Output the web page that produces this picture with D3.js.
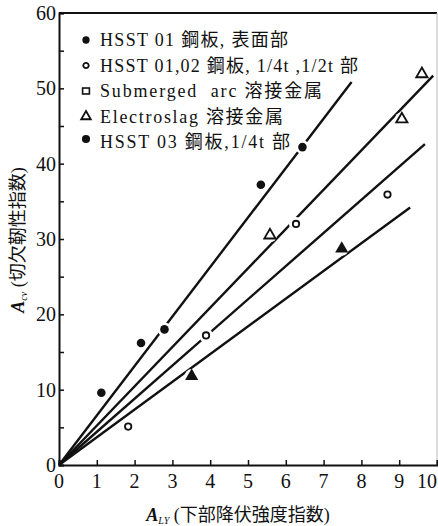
<!DOCTYPE html>
<html>
<head>
<meta charset="utf-8">
<script src="https://cdn.jsdelivr.net/npm/d3@7"></script>
<style>
  html, body { margin: 0; padding: 0; background: #fff; }
  svg { display: block; }
  text { font-family: "Liberation Serif", "DejaVu Serif", "Noto Sans CJK JP", serif; fill: #111; }
</style>
</head>
<body>
<script>
// Datos (A_LY, A_cv)
const hsst01Surface = [[1.12, 9.6], [2.17, 16.2], [2.79, 18.0], [5.34, 37.2], [6.44, 42.2]];
const hsst01Inner = [[1.83, 5.1], [3.89, 17.2], [6.27, 32.0], [8.69, 35.9]];
const electroslag = [[5.58, 30.5], [9.07, 45.9], [9.6, 51.9]];
const hsst03 = [[3.51, 11.8], [7.48, 28.7]];

// rectas por el origen: pendiente y extremo en x
const lineSlopes = [6.57, 5.22, 4.40, 3.68];
const lineEnds = [7.74, 9.9, 9.68, 9.29];

const xTickValues = d3.range(0, 11);
const yTickValues = [0, 10, 20, 30, 40, 50, 60];
const yMinorTicks = [5, 15, 25, 35, 45, 55];

const legendMarkers = ['dot', 'circle', 'square', 'triangle', 'dot'];
const legendLabels = [
    'HSST 01 鋼板, 表面部',
    'HSST 01,02 鋼板, 1/4t ,1/2t 部',
    'Submerged\u00a0 arc 溶接金属',
    'Electroslag 溶接金属',
    'HSST 03 鋼板,1/4t 部'
];
// ancho de cada renglon de la leyenda (px)
const legendWidths = [188, 258, 222, 183, 190];

const width = 438;
const height = 526;
const margin = { left: 59, right: 1, top: 13, bottom: 61 };

const svg = d3.select('body').append('svg')
    .attr('width', width)
    .attr('height', height);

const x = d3.scaleLinear().domain([0, 10]).range([margin.left, width - margin.right]);
const y = d3.scaleLinear().domain([0, 60]).range([height - margin.bottom, margin.top]);

// marco
svg.append('line')
    .attr('x1', x(0)).attr('x2', x(10)).attr('y1', y(60)).attr('y2', y(60))
    .attr('stroke', '#111').attr('stroke-width', 2);
svg.append('line')
    .attr('x1', x(10)).attr('x2', x(10)).attr('y1', y(60)).attr('y2', y(0))
    .attr('stroke', '#bbb').attr('stroke-width', 1);

// ejes con ticks hacia dentro
const xAxis = svg.append('g')
    .attr('transform', `translate(0,${y(0)})`)
    .call(d3.axisBottom(x).tickValues(xTickValues).tickSize(-5).tickFormat(''));
const yAxis = svg.append('g')
    .attr('transform', `translate(${x(0)},0)`)
    .call(d3.axisLeft(y).tickValues(yTickValues.concat(yMinorTicks)).tickSize(-5).tickFormat(''));

[xAxis, yAxis].forEach(g => {
    g.select('.domain').attr('stroke', '#111').attr('stroke-width', 2);
    g.selectAll('.tick line').attr('stroke', '#111').attr('stroke-width', 1.5);
});

// etiquetas de ticks
svg.append('g').selectAll('text')
    .data(xTickValues)
    .enter().append('text')
    .attr('x', d => x(d))
    .attr('y', y(0) + 23)
    .attr('text-anchor', d => d === 10 ? 'end' : 'middle')
    .attr('font-size', 20)
    .text(d => d);

svg.append('g').selectAll('text')
    .data(yTickValues)
    .enter().append('text')
    .attr('x', x(0) - 3)
    .attr('y', d => y(d) + 7)
    .attr('text-anchor', 'end')
    .attr('font-size', 20)
    .text(d => d);

// rectas
svg.append('g').selectAll('line')
    .data(lineSlopes)
    .enter().append('line')
    .attr('x1', x(0)).attr('y1', y(0))
    .attr('x2', (d, i) => x(lineEnds[i]))
    .attr('y2', (d, i) => y(d * lineEnds[i]))
    .attr('stroke', '#111')
    .attr('stroke-width', 2.4);

// huecos en las rectas alrededor de los marcadores
const allPoints = hsst01Surface.concat(hsst01Inner, electroslag, hsst03);
svg.append('g').selectAll('circle')
    .data(allPoints)
    .enter().append('circle')
    .attr('cx', d => x(d[0]))
    .attr('cy', d => y(d[1]))
    .attr('r', 7)
    .attr('fill', '#fff');

const tri = d3.symbol().type(d3.symbolTriangle);

function drawMarker(g, type, px, py, scale) {
    const s = scale || 1;
    if (type === 'dot') {
        g.append('circle').attr('cx', px).attr('cy', py).attr('r', 4.3 * s).attr('fill', '#111');
    } else if (type === 'circle') {
        g.append('circle').attr('cx', px).attr('cy', py).attr('r', 3.2 * s)
            .attr('fill', '#fff').attr('stroke', '#111').attr('stroke-width', 1.8);
    } else if (type === 'square') {
        g.append('rect').attr('x', px - 4 * s).attr('y', py - 3.5 * s)
            .attr('width', 8 * s).attr('height', 7 * s)
            .attr('fill', '#fff').attr('stroke', '#111').attr('stroke-width', 1.6);
    } else if (type === 'triangle') {
        g.append('path').attr('d', tri.size(55 * s * s)())
            .attr('transform', `translate(${px},${py})`)
            .attr('fill', '#fff').attr('stroke', '#111').attr('stroke-width', 1.8);
    } else if (type === 'filledTriangle') {
        g.append('path').attr('d', tri.size(75 * s * s)())
            .attr('transform', `translate(${px},${py})`)
            .attr('fill', '#111');
    }
}

const marks = svg.append('g');
hsst01Surface.forEach(d => drawMarker(marks, 'dot', x(d[0]), y(d[1])));
hsst01Inner.forEach(d => drawMarker(marks, 'circle', x(d[0]), y(d[1])));
electroslag.forEach(d => drawMarker(marks, 'triangle', x(d[0]), y(d[1])));
hsst03.forEach(d => drawMarker(marks, 'filledTriangle', x(d[0]), y(d[1])));

// leyenda
const legend = svg.append('g').attr('transform', 'translate(86,40)');
legendLabels.forEach((label, i) => {
    const row = legend.append('g').attr('transform', `translate(0,${i * 25.5})`);
    drawMarker(row, legendMarkers[i], 0, i === 4 ? -3 : 0, i === 4 ? 0.95 : 0.85);
    row.append('text')
        .attr('x', 14)
        .attr('y', 6)
        .attr('font-size', 18)
        .attr('textLength', legendWidths[i])
        .attr('lengthAdjust', 'spacing')
        .text(label);
});

// titulos de ejes
const xTitle = svg.append('text')
    .attr('x', 238)
    .attr('y', 521)
    .attr('text-anchor', 'middle')
    .attr('font-size', 18);
xTitle.append('tspan').attr('font-style', 'italic').attr('font-weight', 'bold').text('A');
xTitle.append('tspan').attr('font-style', 'italic').attr('font-size', 10).attr('dy', 3).text('LY');
xTitle.append('tspan').attr('dy', -3).text(' (下部降伏強度指数)');

const yTitle = svg.append('text')
    .attr('transform', 'translate(24,240) rotate(-90)')
    .attr('text-anchor', 'middle')
    .attr('font-size', 18);
yTitle.append('tspan').attr('font-style', 'italic').attr('font-weight', 'bold').text('A');
yTitle.append('tspan').attr('font-style', 'italic').attr('font-size', 10).attr('dy', 3).text('cv');
yTitle.append('tspan').attr('dy', -3).text(' (切欠靭性指数)');
</script>
</body>
</html>
